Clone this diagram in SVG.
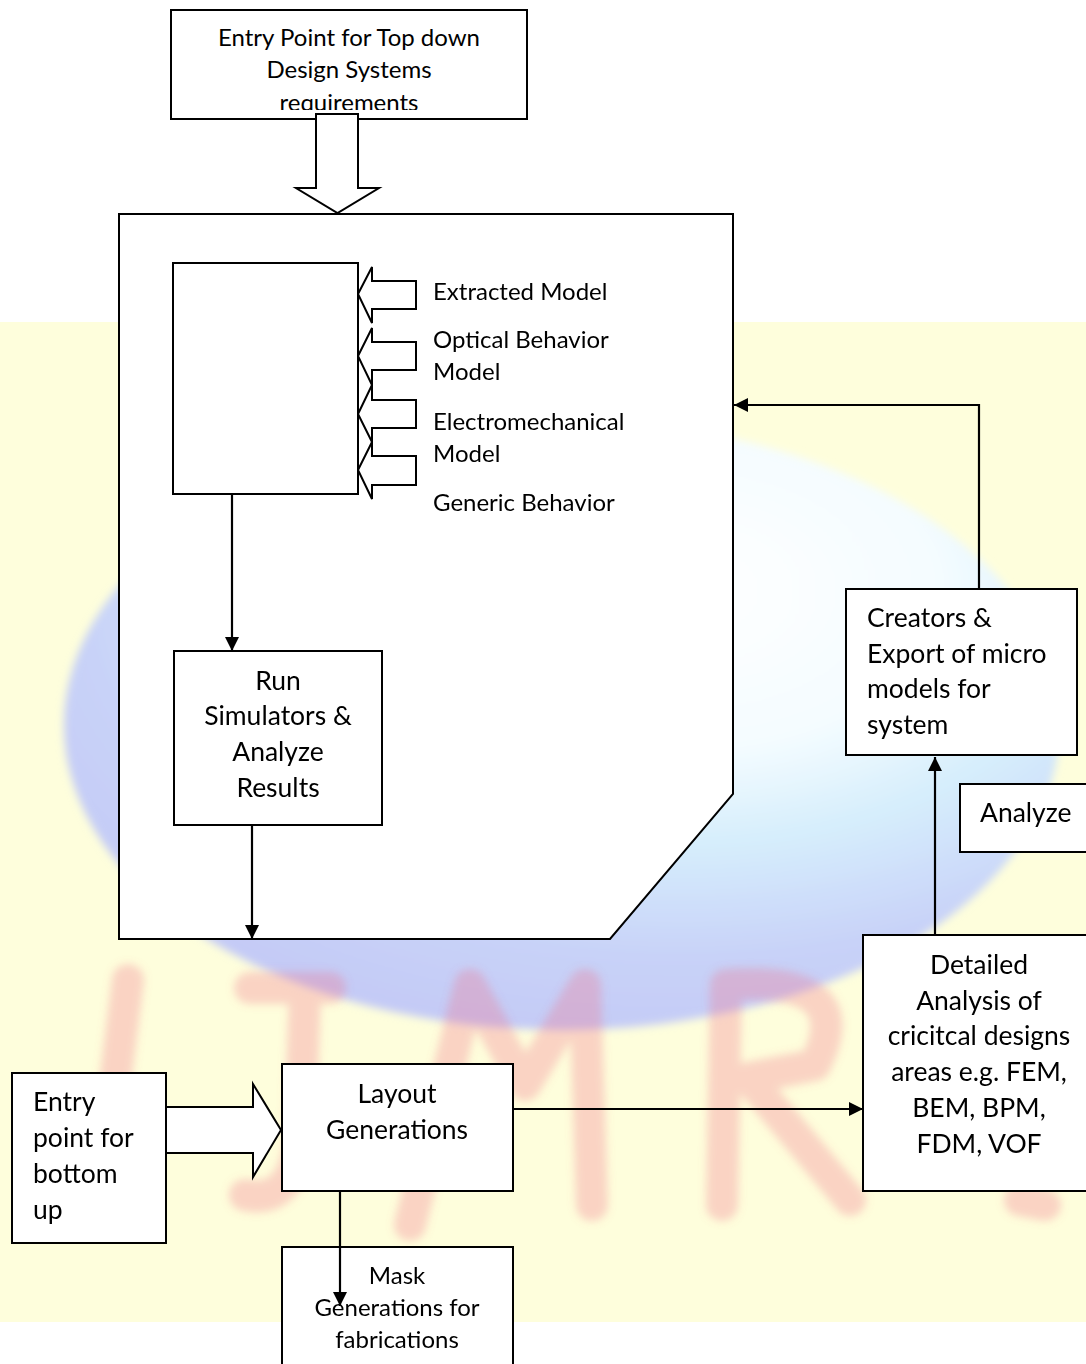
<svg xmlns="http://www.w3.org/2000/svg" width="1086" height="1364" viewBox="0 0 1086 1364">
<defs>
<style>
.box{fill:#fff;stroke:#000;stroke-width:2}
.blk{fill:#fff;stroke:#000;stroke-width:2;stroke-linejoin:miter}
.ln{fill:none;stroke:#000;stroke-width:2.2}
.s{font-family:Lato,"Open Sans","Liberation Sans",sans-serif;font-size:24px;fill:#000}
.l{font-family:Lato,"Open Sans","Liberation Sans",sans-serif;font-size:26.5px;fill:#000}
.c{text-anchor:middle}
.wm{fill:none;stroke:#f2708a;stroke-width:32;stroke-linecap:round;stroke-linejoin:round;opacity:0.3}
</style>
<marker id="ah" markerUnits="userSpaceOnUse" markerWidth="16" markerHeight="16" refX="14" refY="7" orient="auto">
<path d="M0,0 L14,7 L0,14 Z" fill="#000"/>
</marker>
<radialGradient id="globe" cx="0.62" cy="0.28" r="0.75">
<stop offset="0" stop-color="#ffffff"/>
<stop offset="0.35" stop-color="#f4fcff"/>
<stop offset="0.55" stop-color="#d6eefc"/>
<stop offset="0.8" stop-color="#c8d2f8"/>
<stop offset="1" stop-color="#c4caf6"/>
</radialGradient>
<filter id="blur" x="-10%" y="-10%" width="120%" height="120%"><feGaussianBlur stdDeviation="4"/></filter>
<clipPath id="topclip"><rect x="171" y="10" width="356" height="100"/></clipPath>
</defs>
<rect x="0" y="0" width="1086" height="1364" fill="#fff"/>
<g id="watermark">
<rect x="0" y="322" width="1086" height="1000" fill="#fefedc"/>
<ellipse cx="562" cy="725" rx="498" ry="305" fill="url(#globe)" filter="url(#blur)"/>
<g filter="url(#blur)">
<path class="wm" d="M128,980 L116,1075"/>
<path class="wm" d="M250,988 L330,988 M305,990 L300,1140 Q292,1205 245,1195"/>
<path class="wm" d="M410,1225 L470,985 L525,1085 L585,985 L592,1205"/>
<path class="wm" d="M722,1205 L726,985 Q860,975 815,1065 L748,1078 L850,1200"/>
<path class="wm" d="M1020,1200 L1045,1205"/>
</g>
</g>
<g id="container">
<path class="box" d="M119,214 H733 V794 L610,939 H119 Z"/>
</g>
<g id="top-entry">
<rect class="box" x="171" y="10" width="356" height="109"/>
<g clip-path="url(#topclip)">
<text class="s c" x="349" y="46">Entry Point for Top down</text>
<text class="s c" x="349" y="78">Design Systems</text>
<text class="s c" x="349" y="111">requirements</text>
</g>
</g>
<g id="top-arrow">
<polygon class="blk" points="316,114 358,114 358,188 379,188 337.5,213 296,188 316,188"/>
</g>
<g id="model-box">
<rect class="box" x="173" y="263" width="185" height="231"/>
</g>
<g id="model-arrows">
<polygon class="blk" points="358,294 372,267 372,281 416,281 416,309 372,309 372,323"/>
<polygon class="blk" points="358,356 372,328 372,342 416,342 416,370 372,370 372,385"/>
<polygon class="blk" points="358,414 372,385 372,400 416,400 416,428 372,428 372,442"/>
<polygon class="blk" points="358,470 372,442 372,456 416,456 416,485 372,485 372,499"/>
</g>
<g id="model-labels">
<text class="s" x="433" y="300">Extracted Model</text>
<text class="s" x="433" y="348">Optical Behavior</text>
<text class="s" x="433" y="380">Model</text>
<text class="s" x="433" y="430">Electromechanical</text>
<text class="s" x="433" y="462">Model</text>
<text class="s" x="433" y="511">Generic Behavior</text>
</g>
<g id="run-simulators">
<rect class="box" x="174" y="651" width="208" height="174"/>
<text class="l c" x="278" y="690">Run</text>
<text class="l c" x="278" y="725">Simulators &amp;</text>
<text class="l c" x="278" y="761">Analyze</text>
<text class="l c" x="278" y="797">Results</text>
</g>
<g id="creators">
<rect class="box" x="846" y="589" width="231" height="166"/>
<text class="l" x="867" y="627">Creators &amp;</text>
<text class="l" x="867" y="663">Export of micro</text>
<text class="l" x="867" y="698">models for</text>
<text class="l" x="867" y="734">system</text>
</g>
<g id="analyze">
<rect class="box" x="960" y="784" width="140" height="68"/>
<text class="l" x="980" y="822">Analyze</text>
</g>
<g id="detailed">
<rect class="box" x="863" y="935" width="240" height="256"/>
<text class="l c" x="979" y="974">Detailed</text>
<text class="l c" x="979" y="1010">Analysis of</text>
<text class="l c" x="979" y="1045">cricitcal designs</text>
<text class="l c" x="979" y="1081">areas e.g. FEM,</text>
<text class="l c" x="979" y="1117">BEM, BPM,</text>
<text class="l c" x="979" y="1153">FDM, VOF</text>
</g>
<g id="bottom-arrow">
<polygon class="blk" points="166,1107 253,1107 253,1084 281,1130 253,1177 253,1153 166,1153"/>
</g>
<g id="bottom-entry">
<rect class="box" x="12" y="1073" width="154" height="170"/>
<text class="l" x="33" y="1111">Entry</text>
<text class="l" x="33" y="1147">point for</text>
<text class="l" x="33" y="1183">bottom</text>
<text class="l" x="33" y="1219">up</text>
</g>
<g id="layout">
<rect class="box" x="282" y="1064" width="231" height="127"/>
<text class="l c" x="397" y="1103">Layout</text>
<text class="l c" x="397" y="1139">Generations</text>
</g>
<g id="mask">
<rect class="box" x="282" y="1247" width="231" height="130"/>
<text class="s c" x="397" y="1284">Mask</text>
<text class="s c" x="397" y="1316">Generations for</text>
<text class="s c" x="397" y="1348">fabrications</text>
</g>
<g id="connectors">
<path class="ln" d="M232,494 V651" marker-end="url(#ah)"/>
<path class="ln" d="M252,825 V939" marker-end="url(#ah)"/>
<path class="ln" d="M979,589 V405 H734" marker-end="url(#ah)"/>
<path class="ln" d="M935,935 V757" marker-end="url(#ah)"/>
<path class="ln" d="M513,1109 H863" marker-end="url(#ah)"/>
<path class="ln" d="M340,1191 V1306" marker-end="url(#ah)"/>
</g>
</svg>
